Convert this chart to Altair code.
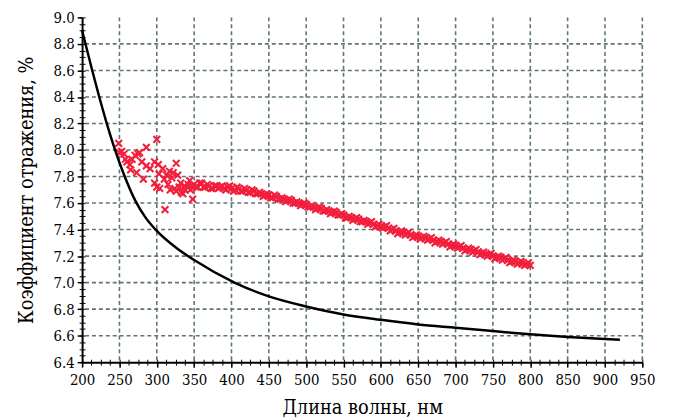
import altair as alt
import pandas as pd

# Black theoretical curve
curve_wl = [200, 205, 214, 222, 232, 243, 255, 271, 285, 300, 329, 350, 404, 448, 500, 550, 600, 650, 700, 750, 800, 850, 900, 920]
curve_r = [8.90, 8.79, 8.59, 8.42, 8.22, 8.02, 7.83, 7.62, 7.49, 7.39, 7.25, 7.17, 7.00, 6.90, 6.82, 6.76, 6.72, 6.685,
           6.66, 6.635, 6.61, 6.59, 6.575, 6.57]

# Red measured points: noisy region
noisy_wl = [249, 253, 256, 260, 264, 267, 271, 275, 277, 286, 300, 273, 282, 280, 286, 291, 297, 302,
            297, 304, 308, 313, 317, 322, 326, 324, 328, 333, 337, 344, 311, 318, 330, 335, 348, 345,
            342, 250, 258, 265, 300, 303, 310, 315, 320, 326, 332, 338, 347]
noisy_r = [8.05, 7.99, 7.97, 7.91, 7.89, 7.93, 7.96, 7.97, 7.98, 8.02, 8.08, 7.83, 7.78, 7.91, 7.88, 7.86, 7.91, 7.89,
           7.75, 7.71, 7.86, 7.81, 7.84, 7.83, 7.90, 7.71, 7.81, 7.68, 7.73, 7.77, 7.55, 7.70, 7.72, 7.67, 7.63, 7.70,
           7.74, 7.98, 7.93, 7.85, 7.72, 7.82, 7.78, 7.74, 7.79, 7.69, 7.75, 7.70, 7.73]

# Red measured points: smooth band
band_wl = [350, 355, 360, 365, 370, 375, 380, 385, 390, 395, 400, 405, 410, 415, 420, 425, 430, 435, 440, 445,
           450, 455, 460, 465, 470, 475, 480, 485, 490, 495, 500, 505, 510, 515, 520, 525, 530, 535, 540, 545,
           550, 555, 560, 565, 570, 575, 580, 585, 590, 595, 600, 605, 610, 615, 620, 625, 630, 635, 640, 645,
           650, 655, 660, 665, 670, 675, 680, 685, 690, 695, 700, 705, 710, 715, 720, 725, 730, 735, 740, 745,
           750, 755, 760, 765, 770, 775, 780, 785, 790, 795, 800]
band_r = [7.74, 7.72, 7.75, 7.72, 7.73, 7.71, 7.73, 7.72, 7.71, 7.72, 7.71, 7.70, 7.71, 7.69, 7.70, 7.68, 7.69, 7.67, 7.67, 7.66,
          7.66, 7.64, 7.65, 7.63, 7.63, 7.62, 7.62, 7.60, 7.60, 7.59, 7.59, 7.57, 7.57, 7.56, 7.56, 7.54, 7.54, 7.53, 7.53, 7.51,
          7.51, 7.49, 7.49, 7.48, 7.48, 7.46, 7.46, 7.45, 7.44, 7.43, 7.42, 7.42, 7.41, 7.40, 7.39, 7.38, 7.38, 7.37, 7.36, 7.35,
          7.35, 7.34, 7.34, 7.33, 7.32, 7.31, 7.31, 7.30, 7.29, 7.28, 7.28, 7.27, 7.26, 7.25, 7.25, 7.24, 7.23, 7.22, 7.21, 7.21,
          7.20, 7.19, 7.19, 7.18, 7.17, 7.16, 7.16, 7.15, 7.15, 7.14, 7.13]
band2_wl = [352.5, 357.5, 362.5, 367.5, 372.5, 377.5, 382.5, 387.5, 392.5, 397.5, 402.5, 407.5, 412.5, 417.5, 422.5,
            427.5, 432.5, 437.5, 442.5, 447.5, 452.5, 457.5, 462.5, 467.5, 472.5, 477.5, 482.5, 487.5, 492.5, 497.5,
            502.5, 507.5, 512.5, 517.5, 522.5, 527.5, 532.5, 537.5, 542.5, 547.5, 552.5, 557.5, 562.5, 567.5, 572.5,
            577.5, 582.5, 587.5, 592.5, 597.5, 602.5, 607.5, 612.5, 617.5, 622.5, 627.5, 632.5, 637.5, 642.5, 647.5,
            652.5, 657.5, 662.5, 667.5, 672.5, 677.5, 682.5, 687.5, 692.5, 697.5, 702.5, 707.5, 712.5, 717.5, 722.5,
            727.5, 732.5, 737.5, 742.5, 747.5, 752.5, 757.5, 762.5, 767.5, 772.5, 777.5, 782.5, 787.5, 792.5, 797.5]
band2_r = [7.72, 7.75, 7.72, 7.74, 7.71, 7.73, 7.71, 7.73, 7.70, 7.73, 7.69, 7.72, 7.69, 7.71, 7.68,
           7.70, 7.67, 7.68, 7.65, 7.67, 7.64, 7.66, 7.63, 7.64, 7.61, 7.63, 7.60, 7.61, 7.58, 7.60,
           7.57, 7.58, 7.55, 7.57, 7.54, 7.55, 7.52, 7.54, 7.51, 7.52, 7.49, 7.50, 7.47, 7.49, 7.46,
           7.47, 7.44, 7.46, 7.42, 7.44, 7.41, 7.43, 7.39, 7.41, 7.37, 7.39, 7.36, 7.38, 7.34, 7.36,
           7.33, 7.35, 7.32, 7.34, 7.30, 7.32, 7.29, 7.31, 7.27, 7.29, 7.26, 7.28, 7.24, 7.26, 7.23,
           7.25, 7.21, 7.23, 7.20, 7.22, 7.18, 7.20, 7.17, 7.19, 7.15, 7.17, 7.14, 7.16, 7.13, 7.15]

x_major = [200, 250, 300, 350, 400, 450, 500, 550, 600, 650, 700, 750, 800, 850, 900, 950]
y_major = [6.4, 6.6, 6.8, 7.0, 7.2, 7.4, 7.6, 7.8, 8.0, 8.2, 8.4, 8.6, 8.8, 9.0]
x_minor = [200 + 12.5 * i for i in range(61)]
y_minor = [round(6.4 + 0.05 * i, 2) for i in range(53)]

curve_df = pd.DataFrame({"wl": curve_wl, "r": curve_r})
pts_df = pd.DataFrame({"wl": noisy_wl + band_wl + band2_wl, "r": noisy_r + band_r + band2_r})

FONT = "DejaVu Serif Condensed, DejaVu Serif"
xdom = [200, 950]
ydom = [6.4, 9.0]
xs = alt.Scale(domain=xdom, nice=False, zero=False)
ys = alt.Scale(domain=ydom, nice=False, zero=False)

grid_x = [v for v in x_major if v != 200]
grid_y = [v for v in y_major if v not in (6.4, 9.0)]

curve = alt.Chart(curve_df).mark_line(color="black", strokeWidth=2.5, interpolate="monotone").encode(
    x=alt.X("wl:Q", scale=xs,
            axis=alt.Axis(orient="bottom", values=x_major, title="Длина волны, нм", format="d",
                          grid=False, domainColor="black", domainWidth=2,
                          tickColor="black", tickSize=5, tickWidth=1.5,
                          labelFlush=False, labelOverlap=False,
                          labelFont=FONT, labelFontSize=15, labelColor="black", labelPadding=6,
                          titleFont=FONT, titleFontSize=20, titleFontWeight="normal",
                          titleColor="black", titlePadding=10)),
    y=alt.Y("r:Q", scale=ys,
            axis=alt.Axis(orient="left", values=y_major, title="Коэффициент отражения, %", format=".1f",
                          grid=False, domainColor="black", domainWidth=2,
                          tickColor="black", tickSize=5, tickWidth=1.5,
                          labelFlush=False, labelOverlap=False,
                          labelFont=FONT, labelFontSize=15, labelColor="black", labelPadding=3,
                          titleFont=FONT, titleFontSize=20, titleFontWeight="normal",
                          titleColor="black", titlePadding=17)),
)

gridx = alt.Chart(pd.DataFrame({"g": grid_x})).mark_rule(
    color="#5f7575", strokeWidth=1.6, strokeDash=[4, 3]).encode(
    x=alt.X("g:Q", scale=xs, axis=None))
gridy = alt.Chart(pd.DataFrame({"g": grid_y})).mark_rule(
    color="#5f7575", strokeWidth=1.6, strokeDash=[4, 3]).encode(
    y=alt.Y("g:Q", scale=ys, axis=None))

pts = alt.Chart(pts_df).mark_point(
    shape="M-1,-1L1,1M-1,1L1,-1", filled=False, color="#f21e3c", strokeWidth=2.1, size=46, opacity=1
).encode(
    x=alt.X("wl:Q", scale=xs,
            axis=alt.Axis(orient="bottom", values=x_minor, labels=False, title=None, grid=False, domain=False,
                          tickColor="black", tickSize=6, tickWidth=1, offset=-3)),
    y=alt.Y("r:Q", scale=ys,
            axis=alt.Axis(orient="left", values=y_minor, labels=False, title=None, grid=False, domain=False,
                          tickColor="black", tickSize=6, tickWidth=1, offset=-3)),
)

chart = alt.layer(gridx, gridy, pts, curve).resolve_scale(
    x="independent", y="independent"
).resolve_axis(x="independent", y="independent").properties(
    width=567, height=349,
    autosize=alt.AutoSizeParams(type="none"),
    padding={"left": 75, "top": 7, "right": 26, "bottom": 56},
    background="white",
).configure_view(stroke=None)

chart.save("out.html", embed_options={"renderer": "svg", "actions": False})
